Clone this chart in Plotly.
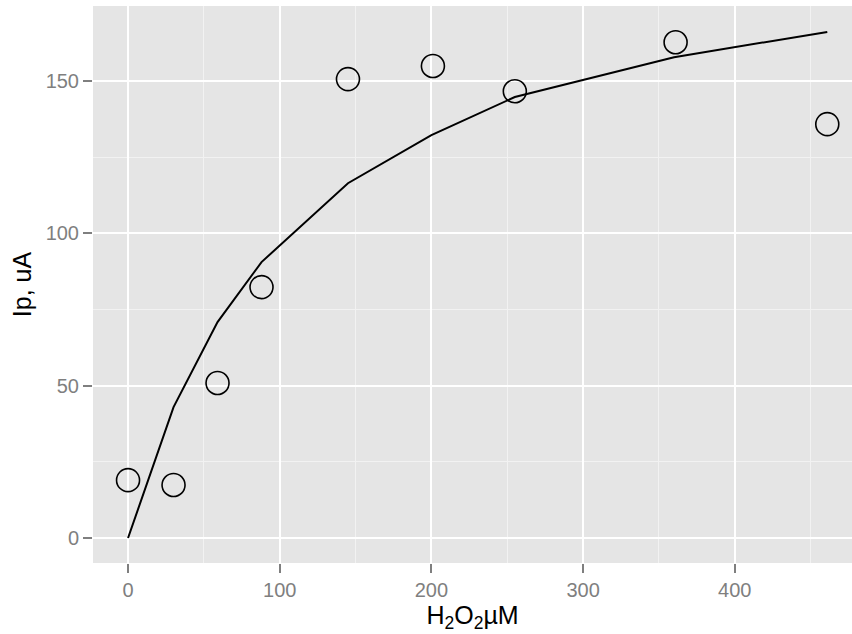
import plotly.graph_objects as go

# Measured peak current against H2O2 concentration
conc = [0, 30, 59, 88, 145, 201, 255, 361, 461]
current = [19.0, 17.4, 50.9, 82.4, 150.7, 155.0, 146.7, 162.8, 135.9]

# Fitted curve evaluated at the same concentrations
fit_conc = [0, 30, 59, 88, 145, 200, 255, 360, 461]
fit_current = [0.0, 43.0, 70.9, 90.6, 116.5, 132.3, 144.8, 157.9, 166.2]

x_ticks = [0, 100, 200, 300, 400]
y_ticks = [0, 50, 100, 150]

FONT = "Liberation Sans, Arial, Helvetica, sans-serif"

fig = go.Figure()
fig.add_trace(go.Scatter(
    x=fit_conc, y=fit_current, mode="lines",
    line=dict(color="black", width=2), showlegend=False,
))
fig.add_trace(go.Scatter(
    x=conc, y=current, mode="markers",
    marker=dict(size=23, color="rgba(0,0,0,0)", line=dict(color="black", width=1.6)),
    showlegend=False,
))

axis_common = dict(
    showgrid=True, gridcolor="white", gridwidth=2,
    zeroline=False, showline=False,
    ticks="outside", ticklen=9, tickwidth=2, tickcolor="#7F7F7F",
    tickfont=dict(family=FONT, size=20, color="#7F7F7F"),
    minor=dict(showgrid=True, gridcolor="#F2F2F2", gridwidth=1),
)

fig.update_layout(
    width=852, height=634,
    margin=dict(l=93, r=0, t=6, b=71),
    paper_bgcolor="white", plot_bgcolor="#E5E5E5",
    xaxis=dict(
        **axis_common, range=[-23.1, 477.3], tickvals=x_ticks,
        title=dict(text="H<sub>2</sub>O<sub>2</sub>µM", standoff=2,
                   font=dict(family=FONT, size=25, color="black")),
    ),
    yaxis=dict(
        **axis_common, range=[-8.2, 174.7], tickvals=y_ticks,
        title=dict(text="Ip, uA", standoff=6,
                   font=dict(family=FONT, size=25, color="black")),
    ),
)
fig.update_xaxes(minor_tickvals=[50, 150, 250, 350, 450])
fig.update_yaxes(minor_tickvals=[25, 75, 125, 175])

fig.write_html("out.html")
